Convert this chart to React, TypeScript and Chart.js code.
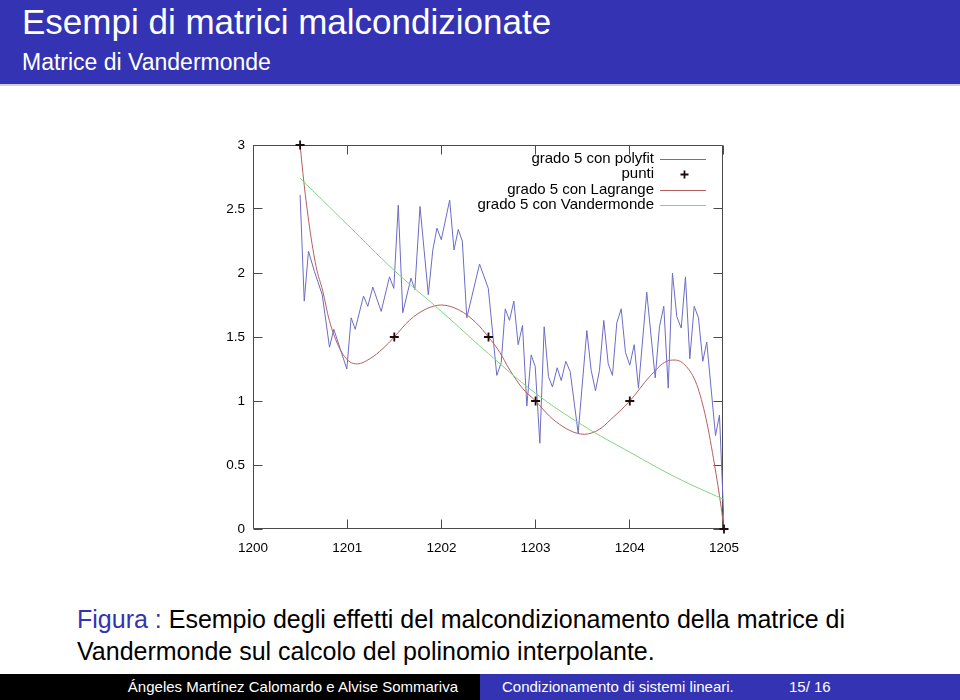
import React, { useEffect, useRef } from 'react';
import { Chart, registerables } from 'chart.js';

Chart.register(...registerables);

// ---- data ----
const xTickValues = [1200, 1201, 1202, 1203, 1204, 1205];
const yTickValues = [0, 0.5, 1, 1.5, 2, 2.5, 3];

const seriesLabels = [
  'grado 5 con polyfit',
  'punti',
  'grado 5 con Lagrange',
  'grado 5 con Vandermonde',
];

// interpolation nodes ("punti")
const pointX = [1200.5, 1201.5, 1202.5, 1203, 1204, 1205];
const pointY = [3, 1.5, 1.5, 1, 1, 0];

// polyfit (jagged) curve vertices
const polyfitX = [
  1200.5, 1200.544, 1200.589, 1200.653, 1200.735, 1200.812, 1200.858, 1200.996, 1201.042, 1201.085,
  1201.173, 1201.219, 1201.272, 1201.361, 1201.449, 1201.495, 1201.542, 1201.59, 1201.677, 1201.718,
  1201.773, 1201.861, 1201.909, 1201.953, 1201.999, 1202.088, 1202.134, 1202.179, 1202.222, 1202.27,
  1202.405, 1202.498, 1202.588, 1202.635, 1202.678, 1202.723, 1202.769, 1202.815, 1202.861, 1202.907,
  1202.953, 1202.996, 1203.045, 1203.091, 1203.137, 1203.179, 1203.229, 1203.272, 1203.321, 1203.367,
  1203.452, 1203.544, 1203.59, 1203.636, 1203.678, 1203.724, 1203.771, 1203.816, 1203.862, 1203.909,
  1203.954, 1204.0, 1204.047, 1204.092, 1204.18, 1204.27, 1204.315, 1204.361, 1204.408, 1204.453,
  1204.499, 1204.546, 1204.591, 1204.637, 1204.684, 1204.729, 1204.775, 1204.817, 1204.91, 1204.952,
  1205.0,
];
const polyfitY = [
  2.61, 1.78, 2.17, 2.01, 1.83, 1.42, 1.56, 1.25, 1.65, 1.56,
  1.82, 1.74, 1.89, 1.7, 1.97, 1.88, 2.53, 1.69, 1.96, 1.87,
  2.52, 1.83, 2.18, 2.35, 2.26, 2.57, 2.18, 2.34, 2.25, 1.65,
  2.07, 1.88, 1.2, 1.3, 1.72, 1.63, 1.78, 1.44, 1.59, 0.96,
  1.36, 1.27, 0.67, 1.58, 1.19, 1.11, 1.26, 1.16, 1.31, 1.23,
  0.75, 1.55, 1.24, 1.08, 1.24, 1.63, 1.29, 1.2, 1.61, 1.72,
  1.38, 1.28, 1.44, 1.1, 1.85, 1.18, 1.58, 1.74, 1.1, 2.0,
  1.66, 1.57, 1.97, 1.33, 1.74, 1.65, 1.31, 1.46, 0.73, 0.89,
  0.05,
];

// Lagrange curve samples
const lagrangeX = [
  1200.5, 1200.54, 1200.6, 1200.67, 1200.74, 1200.81, 1200.92, 1201.02, 1201.11, 1201.24,
  1201.38, 1201.5, 1201.66, 1201.84, 1202.0, 1202.19, 1202.37, 1202.5, 1202.62, 1202.72,
  1202.86, 1203.0, 1203.15, 1203.29, 1203.43, 1203.52, 1203.68, 1203.79, 1204.0, 1204.21,
  1204.39, 1204.48, 1204.6, 1204.71, 1204.81, 1204.9, 1204.97, 1205.0,
];
const lagrangeY = [
  3.0, 2.71, 2.36, 2.05, 1.86, 1.63, 1.41, 1.31, 1.29, 1.33,
  1.41, 1.5, 1.63, 1.72, 1.75, 1.71, 1.61, 1.5, 1.38, 1.25,
  1.1, 1.0, 0.88, 0.8, 0.75, 0.74, 0.78, 0.85, 1.0, 1.19,
  1.31, 1.32, 1.27, 1.13, 0.86, 0.5, 0.17, 0.0,
];

// Vandermonde curve samples
const vanderX = [1200.5, 1201.0, 1201.5, 1202.0, 1202.5, 1203.0, 1203.5, 1204.0, 1204.5, 1205.0];
const vanderY = [2.74, 2.38, 2.02, 1.7, 1.37, 1.06, 0.81, 0.6, 0.4, 0.23];

const toXY = (xs: number[], ys: number[]) => xs.map((x, i) => ({ x, y: ys[i] }));

const AXIS_COLOR = '#4a4a4a';
const TICK_FONT = { family: '"Liberation Sans", Arial, sans-serif', size: 13.5 };

const framePlugin = {
  id: 'gnuplotFrame',
  beforeDatasetsDraw(chart: any) {
    const { ctx, chartArea: a, scales } = chart;
    const L = Math.floor(a.left) + 0.5;
    const R = Math.floor(a.right) - 0.5;
    const T = Math.floor(a.top) + 0.5;
    const B = Math.floor(a.bottom) - 0.5;
    ctx.save();
    ctx.strokeStyle = AXIS_COLOR;
    ctx.lineWidth = 1;
    ctx.beginPath();
    ctx.rect(L, T, R - L, B - T);
    const tl = 9;
    xTickValues.forEach((v) => {
      const px = Math.floor(scales.x.getPixelForValue(v)) + 0.5;
      ctx.moveTo(px, B);
      ctx.lineTo(px, B - tl);
      ctx.moveTo(px, T);
      ctx.lineTo(px, T + tl);
    });
    yTickValues.forEach((v) => {
      const py = Math.floor(scales.y.getPixelForValue(v)) + 0.5;
      ctx.moveTo(L, py);
      ctx.lineTo(L + tl, py);
      ctx.moveTo(R, py);
      ctx.lineTo(R - tl, py);
    });
    ctx.stroke();
    ctx.restore();
  },
};

const keyPlugin = {
  id: 'gnuplotKey',
  afterDatasetsDraw(chart: any) {
    const { ctx, chartArea: a } = chart;
    ctx.save();
    ctx.font = '15px "Liberation Sans", Arial, sans-serif';
    ctx.textAlign = 'right';
    ctx.textBaseline = 'middle';
    chart.data.datasets.forEach((ds: any, i: number) => {
      const y = a.top + 14 + i * 15.3;
      ctx.fillStyle = '#000';
      ctx.fillText(ds.label, a.right - 70, y);
      if (ds.showLine === false) {
        const cx = a.right - 39.5;
        ctx.strokeStyle = ds.borderColor;
        ctx.lineWidth = 1.8;
        ctx.beginPath();
        ctx.moveTo(cx - 4, Math.round(y) + 0.5);
        ctx.lineTo(cx + 4, Math.round(y) + 0.5);
        ctx.moveTo(cx, Math.round(y) - 3.5);
        ctx.lineTo(cx, Math.round(y) + 4.5);
        ctx.stroke();
      } else {
        ctx.strokeStyle = ds.borderColor;
        ctx.lineWidth = 1;
        ctx.beginPath();
        ctx.moveTo(a.right - 64, Math.round(y) + 0.5);
        ctx.lineTo(a.right - 18, Math.round(y) + 0.5);
        ctx.stroke();
      }
    });
    ctx.restore();
  },
};

function GnuplotChart() {
  const ref = useRef<HTMLCanvasElement | null>(null);
  useEffect(() => {
    if (!ref.current) return;
    const chart = new Chart(ref.current, {
      type: 'line',
      data: {
        datasets: [
          {
            label: seriesLabels[0],
            data: toXY(polyfitX, polyfitY),
            borderColor: '#6c6cc4',
            borderWidth: 1,
            pointRadius: 0,
            tension: 0,
            order: 3,
          },
          {
            label: seriesLabels[1],
            data: toXY(pointX, pointY),
            showLine: false,
            borderColor: '#1c0c0c',
            backgroundColor: '#1c0c0c',
            pointStyle: 'cross',
            pointRadius: 4.5,
            pointBorderWidth: 1.8,
            clip: false,
            order: 0,
          },
          {
            label: seriesLabels[2],
            data: toXY(lagrangeX, lagrangeY),
            borderColor: '#b55f5f',
            borderWidth: 1,
            pointRadius: 0,
            cubicInterpolationMode: 'monotone',
            order: 2,
          },
          {
            label: seriesLabels[3],
            data: toXY(vanderX, vanderY),
            borderColor: '#80d480',
            borderWidth: 1,
            pointRadius: 0,
            tension: 0.4,
            order: 1,
          },
        ],
      } as any,
      options: {
        animation: false,
        responsive: false,
        events: [],
        layout: { padding: { left: 0, right: 25, top: 20, bottom: 0 } },
        plugins: { legend: { display: false }, tooltip: { enabled: false } },
        scales: {
          x: {
            type: 'linear',
            min: 1200,
            max: 1205,
            afterFit: (s: any) => {
              s.height = 36;
            },
            afterBuildTicks: (s: any) => {
              s.ticks = xTickValues.map((v) => ({ value: v }));
            },
            ticks: {
              color: '#000',
              font: TICK_FONT,
              padding: 11,
              maxRotation: 0,
              autoSkip: false,
              callback: (v: any) => String(v),
            },
            grid: { display: false, drawTicks: false },
            border: { display: false },
          },
          y: {
            type: 'linear',
            min: 0,
            max: 3,
            afterFit: (s: any) => {
              s.width = 63;
            },
            afterBuildTicks: (s: any) => {
              s.ticks = yTickValues.map((v) => ({ value: v }));
            },
            ticks: {
              color: '#000',
              font: TICK_FONT,
              padding: 8,
              autoSkip: false,
              callback: (v: any) => String(v),
            },
            grid: { display: false, drawTicks: false },
            border: { display: false },
          },
        },
      } as any,
      plugins: [framePlugin, keyPlugin],
    });
    return () => chart.destroy();
  }, []);
  return (
    <canvas
      ref={ref}
      width={560}
      height={440}
      style={{ position: 'absolute', left: 190, top: 125, width: 560, height: 440 }}
    />
  );
}

const BLUE = '#3333b3';
const FONT = '"Liberation Sans", Arial, sans-serif';

export default function App() {
  return (
    <div
      style={{
        position: 'absolute',
        left: 0,
        top: 0,
        width: 960,
        height: 700,
        background: '#fff',
        overflow: 'hidden',
        fontFamily: FONT,
      }}
    >
      <div style={{ position: 'absolute', left: 0, top: 0, width: 960, height: 84, background: BLUE }} />
      <div style={{ position: 'absolute', left: 0, top: 84, width: 960, height: 2, background: '#d0d0dc' }} />
      <div
        style={{
          position: 'absolute',
          left: 22,
          top: 4,
          fontSize: 35,
          lineHeight: '35px',
          color: '#fff',
          whiteSpace: 'nowrap',
        }}
      >
        Esempi di matrici malcondizionate
      </div>
      <div
        style={{
          position: 'absolute',
          left: 22,
          top: 51,
          fontSize: 23,
          lineHeight: '23px',
          color: '#fff',
          whiteSpace: 'nowrap',
        }}
      >
        Matrice di Vandermonde
      </div>

      <GnuplotChart />

      <div
        style={{
          position: 'absolute',
          left: 77,
          top: 603,
          fontSize: 25,
          lineHeight: '32px',
          color: '#000',
          whiteSpace: 'nowrap',
        }}
      >
        <span style={{ color: BLUE }}>Figura :</span> Esempio degli effetti del malcondizionamento della matrice di
        <br />
        Vandermonde sul calcolo del polinomio interpolante.
      </div>

      <div style={{ position: 'absolute', left: 0, top: 674, width: 480, height: 26, background: '#000' }} />
      <div style={{ position: 'absolute', left: 480, top: 674, width: 480, height: 26, background: BLUE }} />
      <div
        style={{
          position: 'absolute',
          left: 0,
          width: 458,
          top: 678,
          fontSize: 15,
          lineHeight: '18px',
          color: '#fff',
          textAlign: 'right',
          whiteSpace: 'nowrap',
        }}
      >
        Ángeles Martínez Calomardo e Alvise Sommariva
      </div>
      <div
        style={{
          position: 'absolute',
          left: 502,
          top: 678,
          fontSize: 15,
          lineHeight: '18px',
          color: '#fff',
          whiteSpace: 'nowrap',
        }}
      >
        Condizionamento di sistemi lineari.
      </div>
      <div
        style={{
          position: 'absolute',
          left: 789,
          top: 678,
          fontSize: 15,
          lineHeight: '18px',
          color: '#fff',
          whiteSpace: 'nowrap',
        }}
      >
        15/ 16
      </div>
    </div>
  );
}
